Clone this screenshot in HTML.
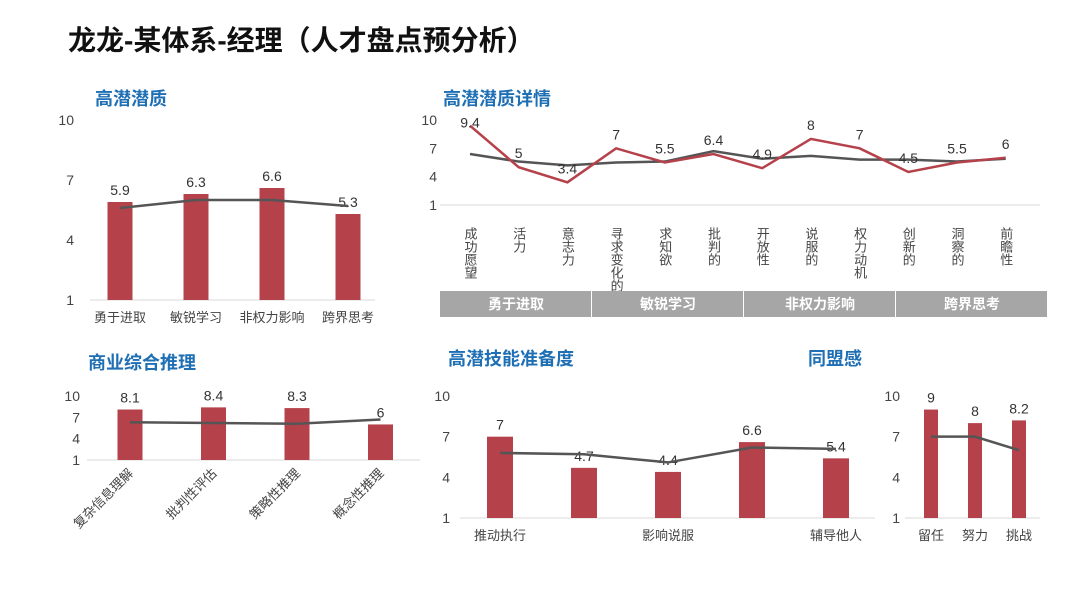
<!DOCTYPE html>
<html><head><meta charset="utf-8"><style>
body{margin:0;background:#fff;width:1080px;height:608px;overflow:hidden;font-family:"Liberation Sans","Noto Sans CJK SC",sans-serif}
svg text{font-family:"Liberation Sans","Noto Sans CJK SC",sans-serif}
</style></head><body>
<svg id="s" width="1080" height="608" xmlns="http://www.w3.org/2000/svg">
<text x="68" y="50" font-size="28" font-weight="bold" fill="#111">龙龙-某体系-经理（人才盘点预分析）</text>
<text x="95" y="105" font-size="18" font-weight="bold" fill="#1f6fb5">高潜潜质</text>
<text x="443" y="105" font-size="18" font-weight="bold" fill="#1f6fb5">高潜潜质详情</text>
<text x="88" y="369" font-size="18" font-weight="bold" fill="#1f6fb5">商业综合推理</text>
<text x="448" y="365" font-size="18" font-weight="bold" fill="#1f6fb5">高潜技能准备度</text>
<text x="808" y="365" font-size="18" font-weight="bold" fill="#1f6fb5">同盟感</text>
</svg>
<script>
const ticks=[1,4,7,10];
const c1Cats=["勇于进取","敏锐学习","非权力影响","跨界思考"];
const c1Vals=[5.9,6.3,6.6,5.3];
const c1Line=[5.6,6.0,6.0,5.7];
const c2Cats=["成功愿望","活力","意志力","寻求变化的","求知欲","批判的","开放性","说服的","权力动机","创新的","洞察的","前瞻性"];
const c2Vals=[9.4,5,3.4,7,5.5,6.4,4.9,8,7,4.5,5.5,6];
const c2Line=[6.4,5.6,5.2,5.5,5.6,6.7,5.9,6.2,5.8,5.8,5.6,5.9];
const c2Groups=["勇于进取","敏锐学习","非权力影响","跨界思考"];
const c3Cats=["复杂信息理解","批判性评估","策略性推理","概念性推理"];
const c3Vals=[8.1,8.4,8.3,6];
const c3Line=[6.3,6.2,6.1,6.7];
const c4Cats=["推动执行","","影响说服","","辅导他人"];
const c4Vals=[7,4.7,4.4,6.6,5.4];
const c4Line=[5.8,5.7,5.1,6.2,6.1];
const c5Cats=["留任","努力","挑战"];
const c5Vals=[9,8,8.2];
const c5Line=[7,7,6];

const S=document.getElementById('s');const NS="http://www.w3.org/2000/svg";
function mk(t,a,txt){const e=document.createElementNS(NS,t);for(const k in a)e.setAttribute(k,a[k]);if(txt!==undefined)e.textContent=txt;S.appendChild(e);return e;}
function chart(o){
 const y=v=>o.y1-(v-1)*(o.y1-o.y10)/9;
 const x=i=>o.x0+i*o.dx;
 const ax=mk('line',{x1:o.bx0,x2:o.bx1,y1:o.y1,y2:o.y1,stroke:'#d9d9d9','stroke-width':1});
 
 
 ticks.forEach(t=>{const e=mk('text',{x:o.tx,y:y(t)+5,'font-size':o.tfs||14,'text-anchor':'end',fill:'#444'},t);
  
  });
 o.cats.forEach((c,i)=>{
  if(o.bars){const v=o.vals[i];const b=mk('rect',{x:x(i)-o.bw/2,y:y(v),width:o.bw,height:o.y1-y(v),fill:'#b5414b'});
   
   
   const l=mk('text',{x:x(i),y:y(v)-7,'font-size':14,'text-anchor':'middle',fill:'#333'},v);
   
   }
  if(!c)return;
  let e;
  if(o.rot){e=mk('text',{x:x(i)+4,y:o.y1+14,'font-size':13,'text-anchor':'end',fill:'#444',transform:`rotate(-45 ${x(i)+4} ${o.y1+14})`},c);}
  else if(o.vert){e=mk('text',{x:x(i),y:o.y1+22,'font-size':13,fill:'#444','writing-mode':'tb','text-anchor':'start','glyph-orientation-vertical':0},c);}
  else{e=mk('text',{x:x(i),y:o.y1+22,'font-size':13,'text-anchor':'middle',fill:'#444'},c);}
  
  
 });
 const pl=mk('polyline',{points:o.line.map((v,i)=>x(i)+','+y(v)).join(' '),fill:'none',stroke:'#555','stroke-width':2.5});
 
 
 if(!o.bars){
  const rl=mk('polyline',{points:o.vals.map((v,i)=>x(i)+','+y(v)).join(' '),fill:'none',stroke:'#b5414b','stroke-width':2.5});
  
  
  o.vals.forEach((v,i)=>{const t=mk('text',{x:x(i),y:y(v)-(i==0?-2:9),'font-size':14,'text-anchor':'middle',fill:'#333'},v);
   
   });
 }
}
chart({id:'potential',cats:c1Cats,vals:c1Vals,line:c1Line,bars:true,x0:120,dx:76,bw:25,y1:300,y10:120,tx:74,bx0:90,bx1:375});
chart({id:'detail',cats:c2Cats,vals:c2Vals,line:c2Line,bars:false,vert:true,x0:470,dx:48.7,y1:205,y10:120,tx:437,bx0:440,bx1:1040});
chart({id:'reasoning',cats:c3Cats,vals:c3Vals,line:c3Line,bars:true,rot:true,x0:130,dx:83.5,bw:25,y1:460,y10:396,tx:80,bx0:87,bx1:420});
chart({id:'skills',cats:c4Cats,vals:c4Vals,line:c4Line,bars:true,x0:500,dx:84,bw:26,y1:518,y10:396,tx:450,bx0:460,bx1:875});
chart({id:'alliance',cats:c5Cats,vals:c5Vals,line:c5Line,bars:true,x0:931,dx:44,bw:14,y1:518,y10:396,tx:900,bx0:905,bx1:1040});
c2Groups.forEach((g,i)=>{const gx=440+i*152;
 const r=mk('rect',{x:gx,y:291,width:151,height:26,fill:'#a6a6a6'});
 
 
 const t=mk('text',{x:gx+76,y:309,'font-size':14,'font-weight':'bold','text-anchor':'middle',fill:'#fff'},g);
 
 });
</script>
</body></html>
